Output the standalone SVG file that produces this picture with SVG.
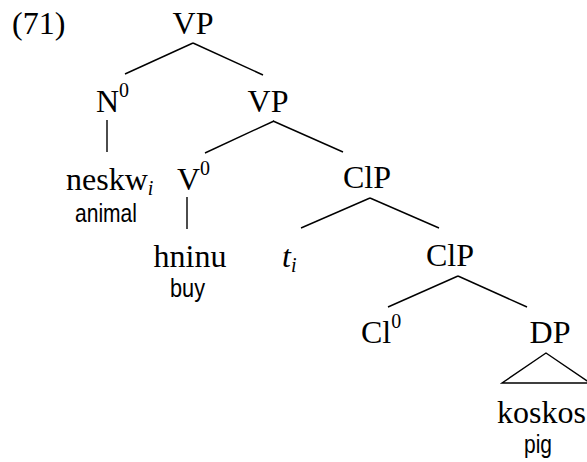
<svg xmlns="http://www.w3.org/2000/svg" width="587" height="462" viewBox="0 0 587 462">
<style>
.t{font-family:"Liberation Serif","Times New Roman",serif;font-size:32px;fill:#000}
.g{font-family:"Liberation Sans","Arial",sans-serif;font-size:25px;fill:#000}
.c{text-anchor:middle}
.sup{font-size:20px}
.sub{font-size:20px;font-style:italic}
#edges line,#edges polygon{stroke:#000;stroke-width:1.4;fill:none}
</style>
<rect width="587" height="462" fill="#fff"/>
<text class="t" x="12" y="34" font-size="30">(71)</text>
<g id="edges">
<line x1="193" y1="43" x2="125" y2="74"/>
<line x1="193" y1="43" x2="263" y2="75"/>
<line x1="107" y1="120" x2="107" y2="152"/>
<line x1="274" y1="121" x2="205" y2="153"/>
<line x1="273" y1="121" x2="343" y2="152"/>
<line x1="187" y1="197" x2="187" y2="229"/>
<line x1="370" y1="198" x2="301" y2="228"/>
<line x1="370" y1="198" x2="439" y2="228"/>
<line x1="458" y1="276" x2="388" y2="307"/>
<line x1="458" y1="276" x2="527" y2="307"/>
<polygon points="546,353 502,383 590,383"/>
</g>
<g id="vp1"><text class="t c" x="193" y="34">VP</text></g>
<g id="n0"><text class="t" x="96" y="112">N<tspan class="sup" dy="-15">0</tspan></text></g>
<g id="vp2"><text class="t c" x="268" y="112">VP</text></g>
<g id="neskw"><text class="t" x="66" y="190">neskw<tspan class="sub" dy="5">i</tspan></text>
<text class="g" x="75" y="222" textLength="62" lengthAdjust="spacingAndGlyphs">animal</text></g>
<g id="v0"><text class="t" x="177" y="190">V<tspan class="sup" dy="-15">0</tspan></text></g>
<g id="hninu"><text class="t c" x="190" y="267">hninu</text>
<text class="g" x="170" y="297" textLength="35" lengthAdjust="spacingAndGlyphs">buy</text></g>
<g id="clp1"><text class="t c" x="367" y="188">ClP</text></g>
<g id="ti"><text class="t" x="282" y="267"><tspan font-style="italic">t</tspan><tspan class="sub" dy="5">i</tspan></text></g>
<g id="clp2"><text class="t c" x="450" y="266">ClP</text></g>
<g id="cl0"><text class="t" x="361" y="343">Cl<tspan class="sup" dy="-15">0</tspan></text></g>
<g id="dp"><text class="t c" x="550" y="343">DP</text></g>
<g id="koskos"><text class="t" x="497" y="423">koskos</text>
<text class="g" x="524" y="453" textLength="28" lengthAdjust="spacingAndGlyphs">pig</text></g>
</svg>
